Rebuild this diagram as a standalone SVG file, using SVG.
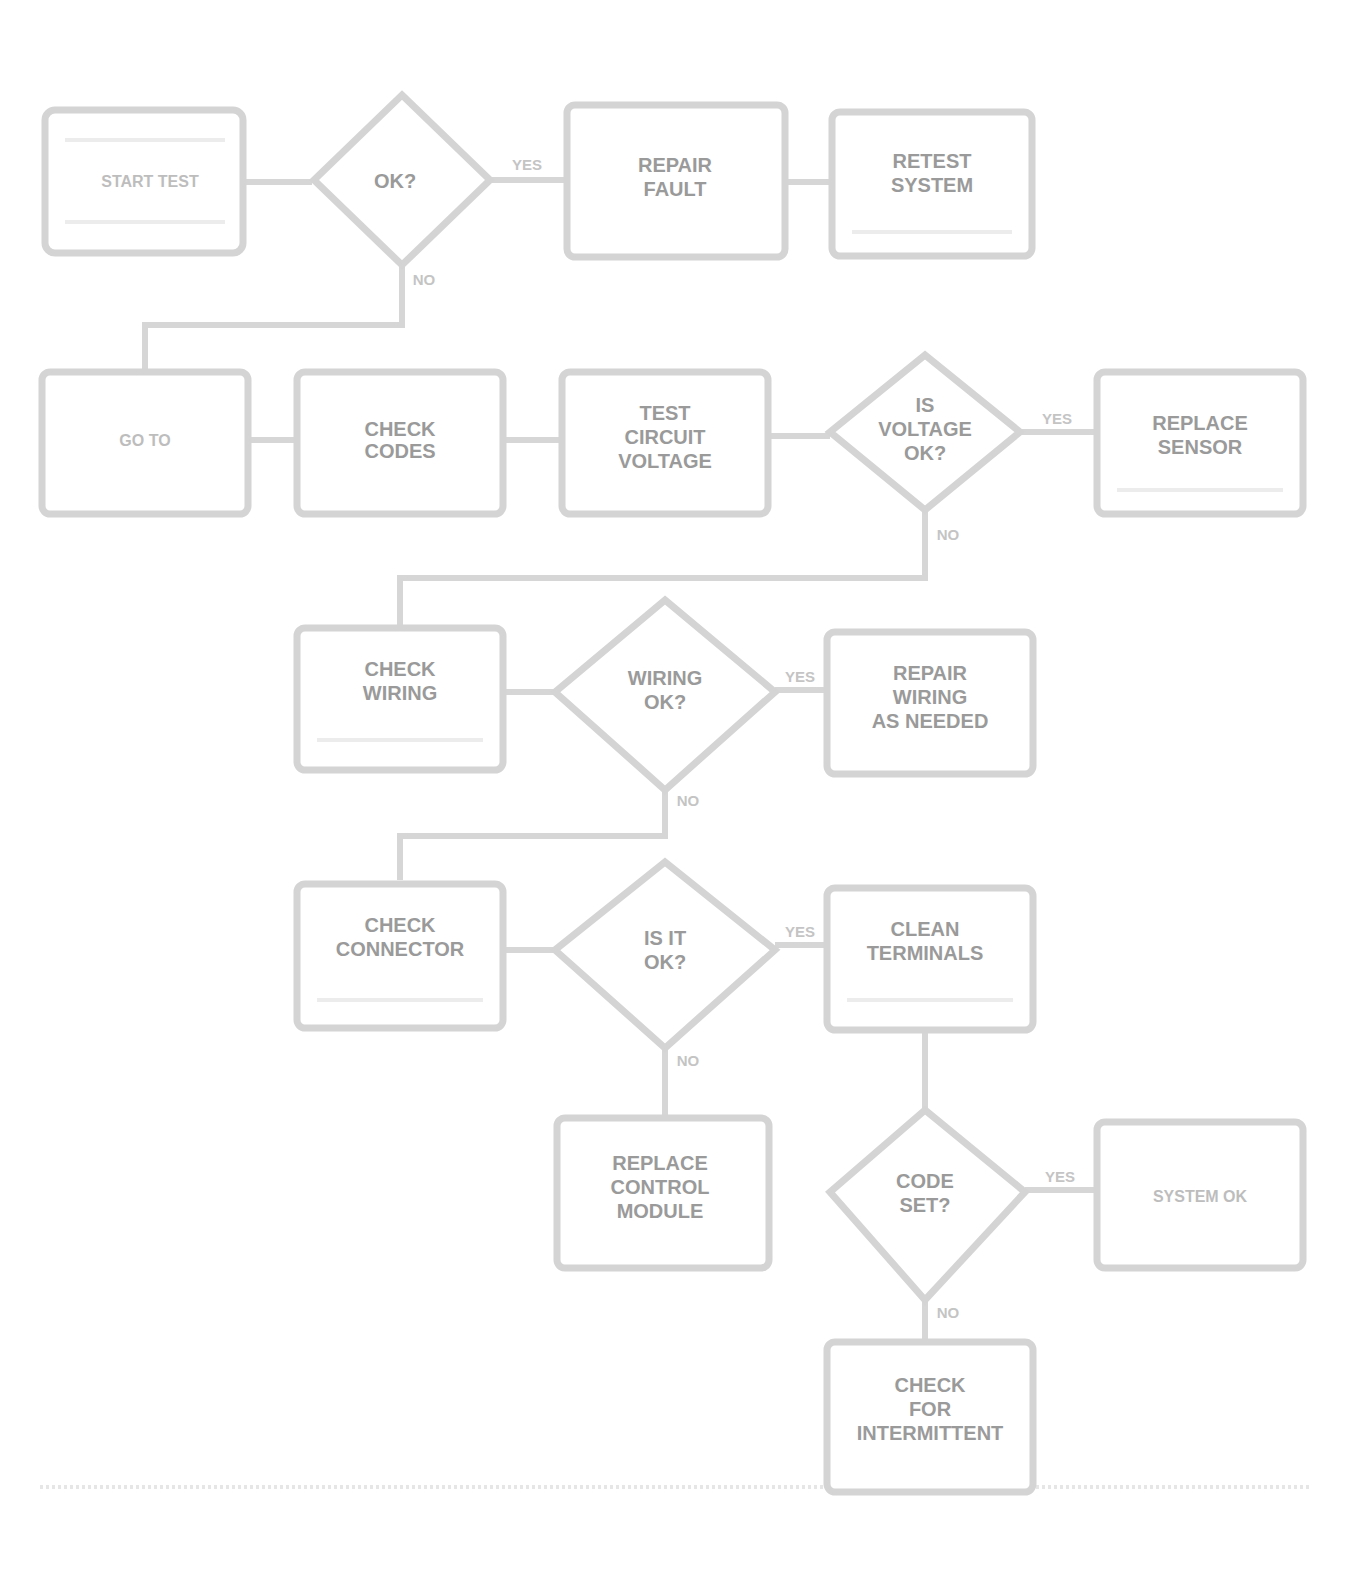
<svg xmlns="http://www.w3.org/2000/svg" width="1359" height="1578" viewBox="0 0 1359 1578">
<defs>
<style>
.box{fill:#ffffff;stroke:#d4d4d4;stroke-width:7}
.inner{fill:none;stroke:#ececec;stroke-width:4}
.dia{fill:#ffffff;stroke:#d4d4d4;stroke-width:7}
.t{font-family:"Liberation Sans",Arial,sans-serif;font-weight:bold;font-size:20px;fill:#9a9a9a;text-anchor:middle}
.tl{font-family:"Liberation Sans",Arial,sans-serif;font-weight:bold;font-size:16px;fill:#bdbdbd;text-anchor:middle}
.yn{font-family:"Liberation Sans",Arial,sans-serif;font-weight:bold;font-size:15px;fill:#c4c4c4;text-anchor:middle}
.c{fill:none;stroke:#d6d6d6;stroke-width:6}
</style>
</defs>
<rect width="1359" height="1578" fill="#ffffff"/>
<g id="connectors">
<path class="c" d="M245,182 L312,182"/>
<path class="c" d="M490,180 L565,180"/>
<path class="c" d="M785,182 L830,182"/>
<path class="c" d="M402,265 L402,325 L145,325 L145,370"/>
<path class="c" d="M250,440 L295,440"/>
<path class="c" d="M505,440 L560,440"/>
<path class="c" d="M770,436 L830,436"/>
<path class="c" d="M1020,432 L1095,432"/>
<path class="c" d="M925,510 L925,578 L400,578 L400,625"/>
<path class="c" d="M505,692 L555,692"/>
<path class="c" d="M775,690 L825,690"/>
<path class="c" d="M665,790 L665,836 L400,836 L400,880"/>
<path class="c" d="M505,950 L555,950"/>
<path class="c" d="M775,945 L825,945"/>
<path class="c" d="M665,1048 L665,1115"/>
<path class="c" d="M925,1030 L925,1110"/>
<path class="c" d="M1025,1190 L1095,1190"/>
<path class="c" d="M925,1300 L925,1340"/>
<path d="M40,1487 L1310,1487" fill="none" stroke="#e6e6e6" stroke-width="4" stroke-dasharray="3 3"/>
</g>
<g id="labels">
<text class="yn" x="527" y="170">YES</text>
<text class="yn" x="424" y="285">NO</text>
<text class="yn" x="1057" y="424">YES</text>
<text class="yn" x="948" y="540">NO</text>
<text class="yn" x="800" y="682">YES</text>
<text class="yn" x="688" y="806">NO</text>
<text class="yn" x="800" y="937">YES</text>
<text class="yn" x="688" y="1066">NO</text>
<text class="yn" x="1060" y="1182">YES</text>
<text class="yn" x="948" y="1318">NO</text>
</g>
<g id="n1">
<rect class="box" x="45" y="110" width="198" height="143" rx="10"/>
<path class="inner" d="M65,140 L225,140 M65,222 L225,222"/>
<text class="tl" x="150" y="187">START TEST</text>
</g>
<g id="d1">
<polygon class="dia" points="402,95 490,180 402,265 314,180"/>
<text class="t" x="395" y="188">OK?</text>
</g>
<g id="n2">
<rect class="box" x="567" y="105" width="218" height="152" rx="8"/>
<text class="t" x="675" y="172">REPAIR</text>
<text class="t" x="675" y="196">FAULT</text>
</g>
<g id="n3">
<rect class="box" x="832" y="112" width="200" height="144" rx="8"/>
<text class="t" x="932" y="168">RETEST</text>
<text class="t" x="932" y="192">SYSTEM</text>
<path class="inner" d="M852,232 L1012,232"/>
</g>
<g id="n4">
<rect class="box" x="42" y="372" width="206" height="142" rx="8"/>
<text class="tl" x="145" y="446">GO TO</text>
</g>
<g id="n5">
<rect class="box" x="297" y="372" width="206" height="142" rx="8"/>
<text class="t" x="400" y="436">CHECK</text>
<text class="t" x="400" y="458">CODES</text>
</g>
<g id="n6">
<rect class="box" x="562" y="372" width="206" height="142" rx="8"/>
<text class="t" x="665" y="420">TEST</text>
<text class="t" x="665" y="444">CIRCUIT</text>
<text class="t" x="665" y="468">VOLTAGE</text>
</g>
<g id="d2">
<polygon class="dia" points="925,355 1020,432 925,510 830,432"/>
<text class="t" x="925" y="412">IS</text>
<text class="t" x="925" y="436">VOLTAGE</text>
<text class="t" x="925" y="460">OK?</text>
</g>
<g id="n7">
<rect class="box" x="1097" y="372" width="206" height="142" rx="8"/>
<text class="t" x="1200" y="430">REPLACE</text>
<text class="t" x="1200" y="454">SENSOR</text>
<path class="inner" d="M1117,490 L1283,490"/>
</g>
<g id="n8">
<rect class="box" x="297" y="628" width="206" height="142" rx="8"/>
<text class="t" x="400" y="676">CHECK</text>
<text class="t" x="400" y="700">WIRING</text>
<path class="inner" d="M317,740 L483,740"/>
</g>
<g id="d3">
<polygon class="dia" points="665,600 775,692 665,790 555,692"/>
<text class="t" x="665" y="685">WIRING</text>
<text class="t" x="665" y="709">OK?</text>
</g>
<g id="n9">
<rect class="box" x="827" y="632" width="206" height="142" rx="8"/>
<text class="t" x="930" y="680">REPAIR</text>
<text class="t" x="930" y="704">WIRING</text>
<text class="t" x="930" y="728">AS NEEDED</text>
</g>
<g id="n10">
<rect class="box" x="297" y="884" width="206" height="144" rx="8"/>
<text class="t" x="400" y="932">CHECK</text>
<text class="t" x="400" y="956">CONNECTOR</text>
<path class="inner" d="M317,1000 L483,1000"/>
</g>
<g id="d4">
<polygon class="dia" points="665,862 775,950 665,1048 555,950"/>
<text class="t" x="665" y="945">IS IT</text>
<text class="t" x="665" y="969">OK?</text>
</g>
<g id="n11">
<rect class="box" x="827" y="888" width="206" height="142" rx="8"/>
<text class="t" x="925" y="936">CLEAN</text>
<text class="t" x="925" y="960">TERMINALS</text>
<path class="inner" d="M847,1000 L1013,1000"/>
</g>
<g id="n12">
<rect class="box" x="557" y="1118" width="212" height="150" rx="8"/>
<text class="t" x="660" y="1170">REPLACE</text>
<text class="t" x="660" y="1194">CONTROL</text>
<text class="t" x="660" y="1218">MODULE</text>
</g>
<g id="d5">
<polygon class="dia" points="925,1110 1025,1192 925,1300 830,1192"/>
<text class="t" x="925" y="1188">CODE</text>
<text class="t" x="925" y="1212">SET?</text>
</g>
<g id="n13">
<rect class="box" x="1097" y="1122" width="206" height="146" rx="8"/>
<text class="tl" x="1200" y="1202">SYSTEM OK</text>
</g>
<g id="n14">
<rect class="box" x="827" y="1342" width="206" height="150" rx="8"/>
<text class="t" x="930" y="1392">CHECK</text>
<text class="t" x="930" y="1416">FOR</text>
<text class="t" x="930" y="1440">INTERMITTENT</text>
</g>
</svg>
